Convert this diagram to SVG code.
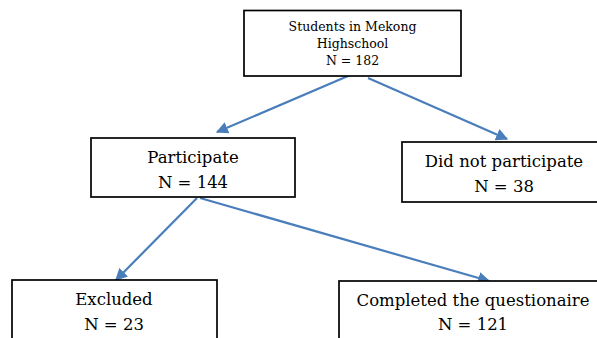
<svg xmlns="http://www.w3.org/2000/svg" width="597" height="338" viewBox="0 0 597 338">
<style>
.box{fill:#fff;stroke:#000;stroke-width:1.7}
.t{font-family:"DejaVu Serif","Liberation Serif",serif;font-size:16.5px;fill:#000;text-anchor:middle}
.s{font-size:12.5px}
.c{stroke:#4a7ebb;stroke-width:2.2;fill:none;marker-end:url(#ah)}
</style>
<defs>
<marker id="ah" viewBox="0 0 10 10" refX="9" refY="5" markerWidth="5.5" markerHeight="5.5" orient="auto" markerUnits="strokeWidth">
<path d="M0,0 L10,5 L0,10 z" fill="#4a7ebb"/>
</marker>
</defs>
<rect width="597" height="338" fill="#fff"/>
<g id="connectors">
<line class="c" x1="355" y1="73" x2="217" y2="132"/>
<line class="c" x1="368" y1="78" x2="507" y2="139"/>
<line class="c" x1="197" y1="198" x2="116" y2="280"/>
<line class="c" x1="200" y1="198" x2="489" y2="281"/>
</g>
<g id="students">
<rect class="box" x="244" y="10.5" width="217" height="65.5"/>
<text class="t s" x="352.5" y="31">Students in Mekong</text>
<text class="t s" x="352.5" y="48">Highschool</text>
<text class="t s" x="352.5" y="65">N = 182</text>
</g>
<g id="participate">
<rect class="box" x="91" y="138" width="204" height="59"/>
<text class="t" x="193" y="163">Participate</text>
<text class="t" x="193" y="188">N = 144</text>
</g>
<g id="notparticipate">
<rect class="box" x="402" y="142" width="210" height="60"/>
<text class="t" x="504" y="167">Did not participate</text>
<text class="t" x="504" y="192">N = 38</text>
</g>
<g id="excluded">
<rect class="box" x="12" y="280" width="205" height="70"/>
<text class="t" x="114" y="305">Excluded</text>
<text class="t" x="114" y="330">N = 23</text>
</g>
<g id="completed">
<rect class="box" x="339" y="281" width="270" height="70"/>
<text class="t" x="473" y="306">Completed the questionaire</text>
<text class="t" x="473" y="330">N = 121</text>
</g>
</svg>
